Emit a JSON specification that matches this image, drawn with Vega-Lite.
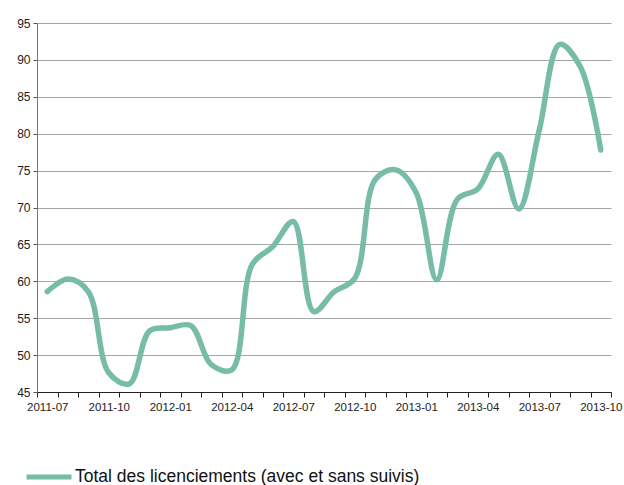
{
  "$schema": "https://vega.github.io/schema/vega-lite/v6.json",
  "autosize": {"type": "none"},
  "width": 574,
  "height": 369,
  "padding": {"left": 37, "top": 23, "right": 13, "bottom": 93},
  "background": "white",
  "config": {
    "font": "Liberation Sans",
    "view": {"stroke": null}
  },
  "data": {
    "values": [
      {"month": "2011-07", "value": 58.6, "serie": "Total des licenciements (avec et sans suivis)"},
      {"month": "2011-08", "value": 60.3, "serie": "Total des licenciements (avec et sans suivis)"},
      {"month": "2011-09", "value": 58.6, "serie": "Total des licenciements (avec et sans suivis)"},
      {"month": "2011-10", "value": 47.6, "serie": "Total des licenciements (avec et sans suivis)"},
      {"month": "2011-11", "value": 46.1, "serie": "Total des licenciements (avec et sans suivis)"},
      {"month": "2011-12", "value": 53.3, "serie": "Total des licenciements (avec et sans suivis)"},
      {"month": "2012-01", "value": 53.7, "serie": "Total des licenciements (avec et sans suivis)"},
      {"month": "2012-02", "value": 54.0, "serie": "Total des licenciements (avec et sans suivis)"},
      {"month": "2012-03", "value": 48.7, "serie": "Total des licenciements (avec et sans suivis)"},
      {"month": "2012-04", "value": 48.0, "serie": "Total des licenciements (avec et sans suivis)"},
      {"month": "2012-05", "value": 62.3, "serie": "Total des licenciements (avec et sans suivis)"},
      {"month": "2012-06", "value": 64.7, "serie": "Total des licenciements (avec et sans suivis)"},
      {"month": "2012-07", "value": 68.1, "serie": "Total des licenciements (avec et sans suivis)"},
      {"month": "2012-08", "value": 55.9, "serie": "Total des licenciements (avec et sans suivis)"},
      {"month": "2012-09", "value": 58.6, "serie": "Total des licenciements (avec et sans suivis)"},
      {"month": "2012-10", "value": 60.4, "serie": "Total des licenciements (avec et sans suivis)"},
      {"month": "2012-11", "value": 73.8, "serie": "Total des licenciements (avec et sans suivis)"},
      {"month": "2012-12", "value": 75.1, "serie": "Total des licenciements (avec et sans suivis)"},
      {"month": "2013-01", "value": 72.0, "serie": "Total des licenciements (avec et sans suivis)"},
      {"month": "2013-02", "value": 60.2, "serie": "Total des licenciements (avec et sans suivis)"},
      {"month": "2013-03", "value": 71.1, "serie": "Total des licenciements (avec et sans suivis)"},
      {"month": "2013-04", "value": 72.5, "serie": "Total des licenciements (avec et sans suivis)"},
      {"month": "2013-05", "value": 77.2, "serie": "Total des licenciements (avec et sans suivis)"},
      {"month": "2013-06", "value": 69.8, "serie": "Total des licenciements (avec et sans suivis)"},
      {"month": "2013-07", "value": 80.5, "serie": "Total des licenciements (avec et sans suivis)"},
      {"month": "2013-08", "value": 92.1, "serie": "Total des licenciements (avec et sans suivis)"},
      {"month": "2013-09", "value": 89.1, "serie": "Total des licenciements (avec et sans suivis)"},
      {"month": "2013-10", "value": 77.8, "serie": "Total des licenciements (avec et sans suivis)"}
    ]
  },
  "mark": {"type": "line", "interpolate": "catmull-rom", "strokeWidth": 5.5, "strokeCap": "round"},
  "encoding": {
    "x": {
      "field": "month",
      "type": "ordinal",
      "scale": {"type": "band", "paddingInner": 0, "paddingOuter": 0},
      "axis": {
        "orient": "bottom",
        "title": null,
        "labelAngle": 0,
        "labelOverlap": false,
        "labelExpr": "isString(datum.value) && indexof(['01','04','07','10'], substring(datum.value, 5, 7)) >= 0 ? datum.value : ''",
        "labelFontSize": 11.5,
        "labelColor": "#222222",
        "labelPadding": 4,
        "tickBand": "extent",
        "tickSize": 5,
        "tickColor": "#222222",
        "domainColor": "#222222",
        "grid": false
      }
    },
    "y": {
      "field": "value",
      "type": "quantitative",
      "scale": {"domain": [45, 95], "nice": false, "zero": false},
      "axis": {
        "title": null,
        "values": [45, 50, 55, 60, 65, 70, 75, 80, 85, 90, 95],
        "labelFontSize": 12,
        "labelColor": "#222222",
        "labelPadding": 3,
        "tickSize": 4,
        "tickColor": "#555555",
        "domainColor": "#777777",
        "gridColor": "#a6a6a6",
        "gridWidth": 1
      }
    },
    "color": {
      "field": "serie",
      "type": "nominal",
      "scale": {"range": ["#77bba9"]},
      "legend": {
        "title": null,
        "orient": "none",
        "legendX": -13,
        "legendY": 429,
        "padding": 0,
        "symbolType": "stroke",
        "symbolSize": 2025,
        "symbolStrokeWidth": 5,
        "labelFontSize": 17.5,
        "labelColor": "#111111",
        "labelOffset": 1,
        "labelLimit": 600
      }
    }
  }
}
